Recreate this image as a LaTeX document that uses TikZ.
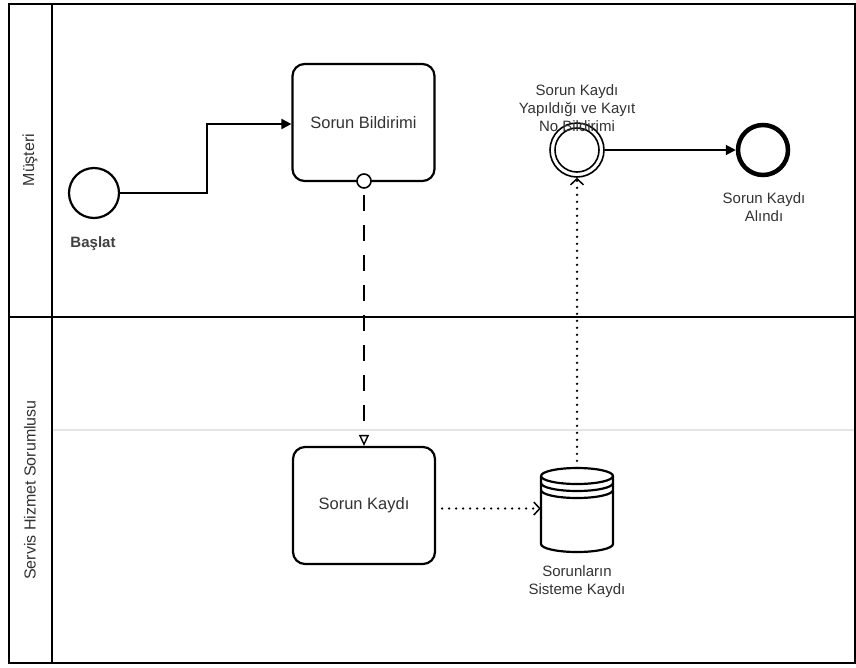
\documentclass[tikz,border=0pt]{standalone}
\usepackage{fontspec}
\setmainfont{Liberation Sans}
\usetikzlibrary{arrows.meta}
\begin{document}
\begin{tikzpicture}[x=1pt,y=-1pt,
  lane/.style={line width=2.4pt},
  task/.style={draw,line width=2.2pt,rounded corners=12pt,minimum width=142pt,minimum height=117pt,font=\fontsize{16.5}{19}\selectfont,text=black!80},
  lbl/.style={font=\fontsize{15}{18}\selectfont,align=center,text=black!80},
  flow/.style={line width=2pt,-{Triangle[length=10pt,width=10pt]}},
  msg/.style={line width=1.6pt,dash pattern=on 16pt off 14pt,-{Triangle[open,length=11pt,width=10pt,line width=1.4pt]}},
  assoc/.style={line width=2.6pt,line cap=round,dash pattern=on 0pt off 7pt,-{Straight Barb[length=6pt,width=13pt,line width=1.5pt]}}
]
\useasboundingbox (0,0) rectangle (856,667);
\fill[white] (0,0) rectangle (856,667);
% faint line
\draw[black!10,line width=1.5pt] (52,430) -- (856,430);
% pool frame
\draw[lane] (9,4) rectangle (855,663);
\draw[lane] (52,4) -- (52,663);
\draw[lane] (9,317) -- (855,317);
\node[rotate=90,lbl,font=\fontsize{16}{18}\selectfont] (l1) at (30,160) {Müşteri};
\node[rotate=90,lbl,font=\fontsize{16}{18}\selectfont] (l2) at (30,490) {Servis Hizmet Sorumlusu};
% start
\node[draw,circle,line width=2.2pt,minimum size=50pt,inner sep=0] (start) at (94,193) {};
\node[lbl,font=\fontsize{15}{18}\selectfont\bfseries,text=black!75] (startl) at (93,244) {Başlat};
% tasks
\node[task] (t1) at (363.5,122.5) {Sorun Bildirimi};
\node[task] (t2) at (364,505.5) {Sorun Kaydı};
\node[draw,circle,fill=white,line width=1.6pt,minimum size=14pt,inner sep=0] (mc) at (364,181) {};
% intermediate event
\node[draw,circle,line width=1.6pt,minimum size=54pt,inner sep=0] (ie) at (577,150) {};
\node[draw,circle,line width=1.6pt,minimum size=44pt,inner sep=0] (iei) at (577,150) {};
\node[lbl,fill=none] (iel) at (577,108) {Sorun Kaydı\\Yapıldığı ve Kayıt\\No Bildirimi};
% end
\node[draw,circle,line width=4.5pt,minimum size=50pt,inner sep=0] (end) at (763,150) {};
\node[lbl] (endl) at (764,207) {Sorun Kaydı\\Alındı};
% data store
\node[minimum width=72pt,minimum height=84pt,inner sep=0] (db) at (577,510) {};
\draw[line width=2.2pt,fill=white] (541,476) -- (541,544) arc[start angle=180,end angle=360,x radius=36pt,y radius=8pt] -- (613,476) arc[start angle=0,end angle=180,x radius=36pt,y radius=8pt];
\draw[line width=2.2pt] (541,476) arc[start angle=180,end angle=360,x radius=36pt,y radius=8pt];
\draw[line width=2.2pt] (541,483) arc[start angle=180,end angle=360,x radius=36pt,y radius=8pt];
\draw[line width=2.2pt] (541,490) arc[start angle=180,end angle=360,x radius=36pt,y radius=8pt];
\node[lbl] (dbl) at (577,582) {Sorunların\\Sisteme Kaydı};
% connectors
\draw[flow] (start.east) -- (207,193) -- (207,124) -- (t1.west|-0,124);
\draw[msg] (mc.south) ++(0,6) -- (t2.north);
\draw[assoc] (t2.east)++(6,3) -- (db.west|-0,508.5);
\draw[assoc] (db.north) -- (ie.south);
\draw[flow] (ie.east) -- (end.west);
\end{tikzpicture}
\end{document}
